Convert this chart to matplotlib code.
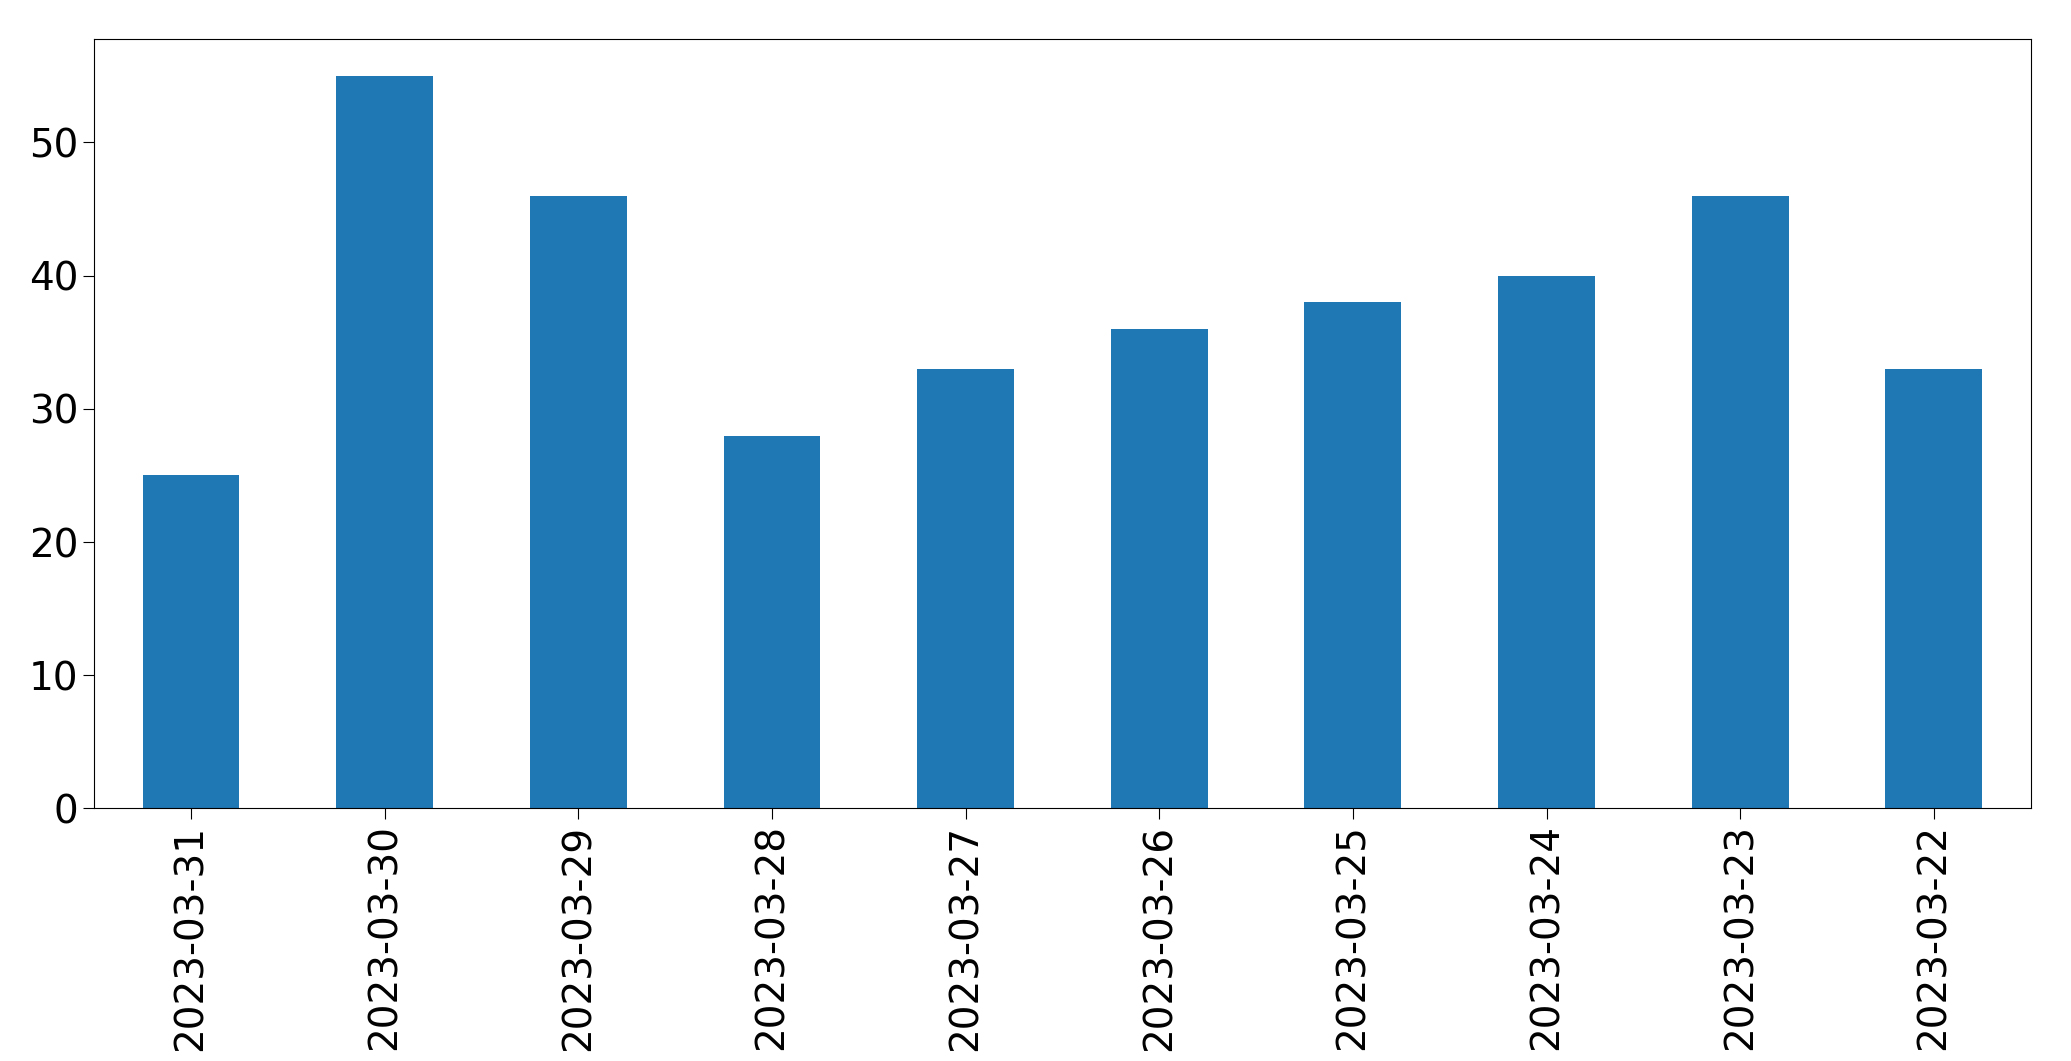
import matplotlib
matplotlib.use("Agg")
import matplotlib.pyplot as plt

dates = ["2023-03-31","2023-03-30","2023-03-29","2023-03-28","2023-03-27",
         "2023-03-26","2023-03-25","2023-03-24","2023-03-23","2023-03-22"]
values = [25, 55, 46, 28, 33, 36, 38, 40, 46, 33]

fig = plt.figure(figsize=(20.71, 10.61), dpi=100)
ax = fig.add_axes([0.0455, 0.238, 0.935, 0.725])
x = range(len(dates))
ax.bar(x, values, width=0.5, color="#1f77b4")
ax.set_xticks(list(x))
ax.set_xticklabels(dates, rotation=90)
ax.set_xlim(-0.5, len(dates) - 0.5)
ax.set_ylim(0, 57.75)
ax.tick_params(labelsize=28, length=8)
fig.savefig("out.png", dpi=100)
